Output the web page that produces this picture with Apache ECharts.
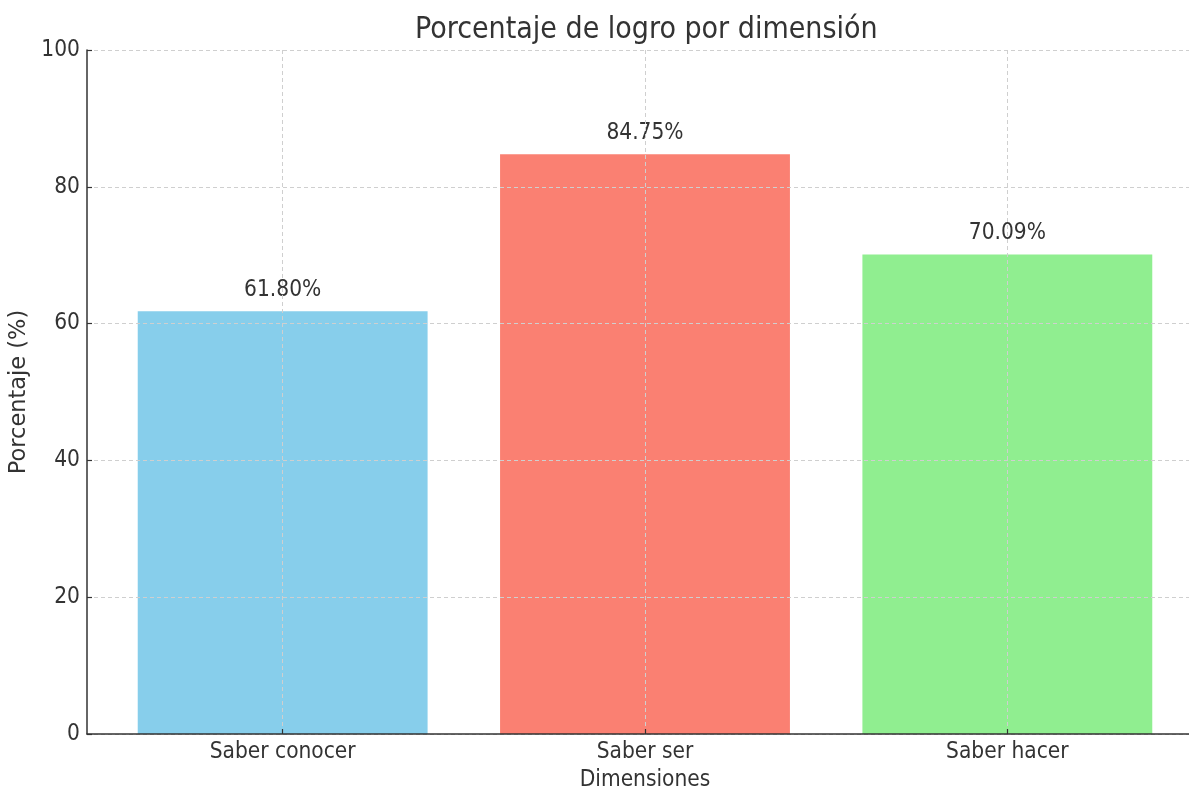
<!DOCTYPE html>
<html>
<head>
<meta charset="utf-8">
<script src="https://cdn.jsdelivr.net/npm/echarts@6/dist/echarts.min.js"></script>
<style>html,body{margin:0;padding:0;background:#fff}#c{width:1189px;height:789px}</style>
</head>
<body>
<div id="c"></div>
<script>
const categories = ['Saber conocer', 'Saber ser', 'Saber hacer'];
const values = [61.80, 84.75, 70.09];
const colors = ['#87CEEB', '#FA8072', '#90EE90'];
const yTicks = [0, 20, 40, 60, 80, 100];
const titleText = 'Porcentaje de logro por dimensión';

const FONT = '"DejaVu Sans Condensed", "DejaVu Sans", sans-serif';
const FONT_V = '"DejaVu Sans", sans-serif';
const FS = 22.5;
const chart = echarts.init(document.getElementById('c'), null, {renderer: 'canvas'});
const idx = categories.map((_, i) => i);
chart.setOption({
  animation: false,
  textStyle: {fontFamily: FONT},
  title: {
    text: titleText, left: 410, top: 10,
    textStyle: {fontFamily: FONT, fontSize: 30, fontWeight: 'normal', color: '#333'}
  },
  grid: {left: 87, right: -14, top: 50, bottom: 55, outerBoundsMode: 'none', containLabel: false},
  xAxis: {
    type: 'value', min: -0.54, max: 2.54, z: 3,
    name: 'Dimensiones', nameLocation: 'middle', nameGap: 34,
    nameTextStyle: {fontFamily: FONT, fontSize: FS, color: '#333'},
    axisLine: {show: true, onZero: false, lineStyle: {color: '#333', width: 1.5}},
    axisTick: {show: true, inside: true, length: 5, customValues: idx, lineStyle: {color: '#333', width: 1.2}},
    axisLabel: {customValues: idx, margin: 7, fontFamily: FONT, fontSize: FS, color: '#333',
      formatter: v => categories[Math.round(v)] ?? ''},
    splitLine: {show: true, lineStyle: {color: '#cfcfcf', type: [4, 3], width: 1}}
  },
  yAxis: {
    type: 'value', min: 0, max: 100, interval: 20, z: 3,
    name: 'Porcentaje (%)', nameLocation: 'middle', nameGap: 37,
    nameTextStyle: {fontFamily: FONT_V, fontSize: FS, color: '#333'},
    axisLine: {show: true, onZero: false, lineStyle: {color: '#333', width: 1.5}},
    axisTick: {show: true, inside: true, length: 5, lineStyle: {color: '#333', width: 1.2}},
    axisLabel: {margin: 7, fontFamily: FONT, fontSize: FS, color: '#333',
      customValues: yTicks},
    splitLine: {show: true, lineStyle: {color: '#cfcfcf', type: [4, 3], width: 1}}
  },
  series: [{
    type: 'bar',
    barWidth: '80%',
    data: values.map((v, i) => ({value: [i, v], itemStyle: {color: colors[i]}})),
    label: {
      show: true, position: 'top', distance: 10,
      fontFamily: FONT, fontSize: FS, color: '#333',
      formatter: p => p.value[1].toFixed(2) + '%'
    }
  }]
});
</script>
</body>
</html>
